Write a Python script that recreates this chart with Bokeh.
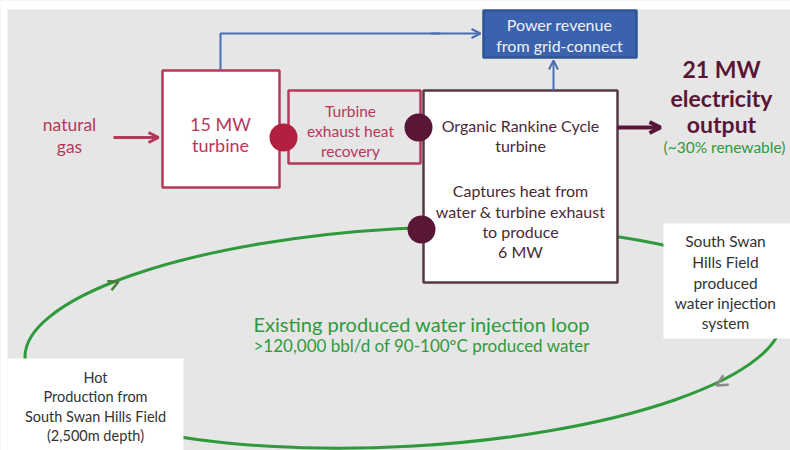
from bokeh.plotting import figure
from bokeh.models import Range1d, Arrow, OpenHead
from bokeh.core.properties import value
from bokeh.embed import file_html
from bokeh.resources import INLINE

FONT = "Lato"
BG = "#e6e6e6"
CRIMSON = "#b5395a"
RED_DOT = "#b3203f"
MAROON = "#5a1636"
ORC_TXT = "#4a2a36"
GREEN = "#2f9a3c"
BLUE = "#3b62ad"
GRAY_TXT = "#333333"

# --- boxes (diagram coordinates, px) ---
box_names = ["turbine", "exhaust", "orc", "revenue", "injection", "hot"]
box_left = [162, 288, 423, 483, 663, 7]
box_right = [279, 420, 617, 636, 790, 183]
box_top = [70, 90, 90, 10, 223, 358]
box_bottom = [187, 163, 282, 57, 338, 450]
box_fill = ["white", BG, "white", BLUE, "white", "white"]
box_line = [CRIMSON, CRIMSON, "#553a45", "#2f5596", None, None]

# --- loop (ellipse) ---
loop_cx, loop_cy = [403], [337]
loop_w, loop_h = [758], [218]
loop_angle = [0.055]

# --- connector dots ---
dot_x = [283, 418, 421]
dot_y = [137, 127, 229]
dot_fill = [RED_DOT, MAROON, MAROON]

# --- texts ---
t_natural = ["natural", "gas"]
t_natural_y = [124, 146]
t_turbine = ["15 MW", "turbine"]
t_turbine_y = [123, 144]
t_exhaust = ["Turbine", "exhaust heat", "recovery"]
t_exhaust_y = [110, 130, 150]
t_orc = ["Organic Rankine Cycle", "turbine", "Captures heat from",
         "water & turbine exhaust", "to produce", "6 MW"]
t_orc_y = [125, 145, 190, 211, 231, 251]
t_rev = ["Power revenue", "from grid-connect"]
t_rev_y = [24, 45]
t_out = ["21 MW", "electricity", "output"]
t_out_y = [68, 97, 123]
t_renew = ["(~30% renewable)"]
t_inj = ["South Swan", "Hills Field", "produced", "water injection", "system"]
t_inj_y = [240, 261, 282, 302, 322]
t_hot = ["Hot", "Production from", "South Swan Hills Field", "(2,500m depth)"]
t_hot_y = [377, 396, 416, 435]
t_loop = ["Existing produced water injection loop",
          ">120,000 bbl/d of 90-100\u00baC produced water"]
t_loop_y = [323, 345]

p = figure(width=790, height=450, output_backend="svg", toolbar_location=None,
           x_range=Range1d(0, 790), y_range=Range1d(450, 0), min_border=0)
p.axis.visible = False
p.grid.visible = False
p.outline_line_color = None
p.background_fill_color = BG
p.border_fill_color = "white"

# white page margin strips seen in the reference
p.quad(left=[0, 0], right=[7, 790], top=[0, 0], bottom=[450, 9],
       fill_color="white", line_color=None)

# loop behind boxes
p.ellipse(x=loop_cx, y=loop_cy, width=loop_w, height=loop_h, angle=loop_angle,
          fill_color=None, line_color=GREEN, line_width=3)

# blue path from turbine to revenue box
p.line(x=[220, 220, 440], y=[70, 33, 33], line_color="#4a6fb0", line_width=2)
p.add_layout(Arrow(end=OpenHead(size=9, line_color="#4a6fb0", line_width=2),
                   x_start=430, y_start=33, x_end=480, y_end=33,
                   line_color="#4a6fb0", line_width=2))
p.add_layout(Arrow(end=OpenHead(size=9, line_color="#4a6fb0", line_width=2),
                   x_start=553, y_start=90, x_end=553, y_end=60,
                   line_color="#4a6fb0", line_width=2))

# boxes
for i in range(len(box_names)):
    lc = box_line[i]
    p.quad(left=[box_left[i]], right=[box_right[i]], top=[box_top[i]],
           bottom=[box_bottom[i]], fill_color=box_fill[i],
           line_color=lc if lc else None, line_width=2.5 if lc else 0)

# natural gas arrow
p.add_layout(Arrow(end=OpenHead(size=10, line_color=CRIMSON, line_width=3),
                   x_start=113, y_start=137, x_end=158, y_end=137,
                   line_color=CRIMSON, line_width=3))
# output arrow
p.add_layout(Arrow(end=OpenHead(size=11, line_color=MAROON, line_width=4),
                   x_start=617, y_start=127, x_end=660, y_end=127,
                   line_color=MAROON, line_width=4))

# loop direction arrowheads
p.add_layout(Arrow(end=OpenHead(size=10, line_color="#4a7a3a", line_width=2.5),
                   x_start=105, y_start=287, x_end=118, y_end=281,
                   line_color=None, line_width=0))
p.add_layout(Arrow(end=OpenHead(size=11, line_color="#8a8a8a", line_width=2.5),
                   x_start=730, y_start=377, x_end=716, y_end=385,
                   line_color=None, line_width=0))

# dots
p.scatter(x=dot_x, y=dot_y, size=28, fill_color=dot_fill, line_color=None)

def txt(x, ys, texts, size, color, style="normal", align="center"):
    p.text(x=[x] * len(texts), y=ys, text=texts, text_font=value(FONT),
           text_font_size=value(f"{size}px"), text_color=color,
           text_font_style=style, text_align=align, text_baseline="middle")

txt(69, t_natural_y, t_natural, 17.5, CRIMSON)
txt(220, t_turbine_y, t_turbine, 18, CRIMSON)
txt(350, t_exhaust_y, t_exhaust, 15.5, CRIMSON)
txt(520, t_orc_y, t_orc, 16, ORC_TXT)
txt(559, t_rev_y, t_rev, 16, "#eef1f8")
txt(721, t_out_y, t_out, 23, MAROON, style="bold")
txt(724, [146], t_renew, 15.5, GREEN)
txt(725, t_inj_y, t_inj, 15.5, GRAY_TXT)
txt(95, t_hot_y, t_hot, 14.5, GRAY_TXT)
p.text(x=[253, 253], y=t_loop_y, text=t_loop, text_font=value(FONT),
       text_font_size=["20px", "17px"], text_color=GREEN,
       text_align="left", text_baseline="middle")

open("out.html", "w").write(file_html(p, INLINE))
